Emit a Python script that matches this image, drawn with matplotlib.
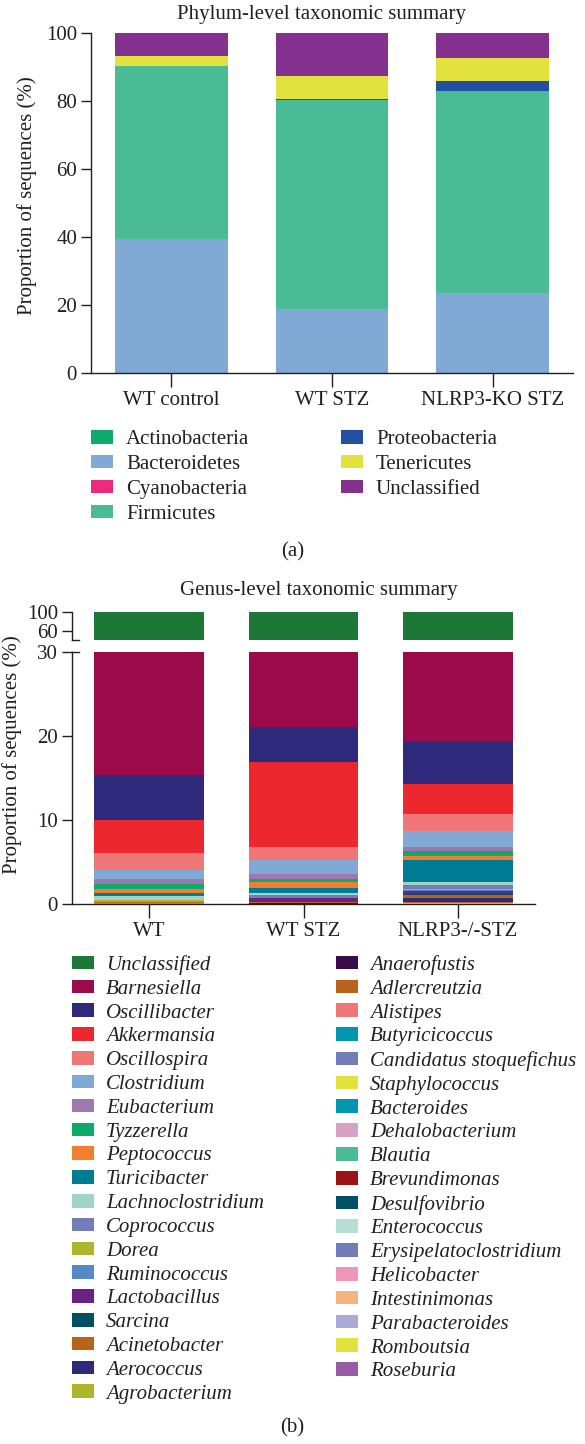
import numpy as np
import matplotlib
matplotlib.use("Agg")
import matplotlib.pyplot as plt
from matplotlib.patches import Patch

plt.rcParams['font.family'] = ['Liberation Serif', 'DejaVu Serif']
plt.rcParams['font.size'] = 15

INK = "#231F20"

# ---- panel (a): phylum level ----
phylum_groups = ["WT control", "WT STZ", "NLRP3-KO STZ"]
phylum_names = ["Actinobacteria", "Bacteroidetes", "Cyanobacteria", "Firmicutes",
                "Proteobacteria", "Tenericutes", "Unclassified"]
phylum_colors = ["#0DAA6C", "#80A9D5", "#EC2A7E", "#49BC96",
                 "#234FA0", "#E3E23C", "#84308E"]
actinobacteria = [0.10, 0.05, 0.10]
bacteroidetes = [39.40, 18.90, 23.50]
cyanobacteria = [0.05, 0.02, 0.02]
firmicutes = [50.60, 61.30, 59.40]
proteobacteria = [0.10, 0.30, 3.00]
tenericutes = [2.90, 6.90, 6.50]
phylum_unclassified = [6.85, 12.53, 7.48]
phylum_values = [actinobacteria, bacteroidetes, cyanobacteria, firmicutes,
                 proteobacteria, tenericutes, phylum_unclassified]

# ---- panel (b): genus level (legend order, top of stack first) ----
genus_groups = ["WT", "WT STZ", "NLRP3-/-STZ"]
genus_names = [
    "Unclassified", "Barnesiella", "Oscillibacter", "Akkermansia", "Oscillospira",
    "Clostridium", "Eubacterium", "Tyzzerella", "Peptococcus", "Turicibacter",
    "Lachnoclostridium", "Coprococcus", "Dorea", "Ruminococcus", "Lactobacillus",
    "Sarcina", "Acinetobacter", "Aerococcus", "Agrobacterium", "Anaerofustis",
    "Adlercreutzia", "Alistipes", "Butyricicoccus", "Candidatus stoquefichus",
    "Staphylococcus", "Bacteroides", "Dehalobacterium", "Blautia", "Brevundimonas",
    "Desulfovibrio", "Enterococcus", "Erysipelatoclostridium", "Helicobacter",
    "Intestinimonas", "Parabacteroides", "Romboutsia", "Roseburia"]
genus_colors = [
    "#1B7837", "#9B0A4A", "#2E2A7B", "#EC282E", "#EE7677",
    "#80A9D5", "#9C79AE", "#0DAA6C", "#F27F30", "#007B94",
    "#9ED5C4", "#727CB8", "#AFB52A", "#5589C6", "#6C2380",
    "#034F65", "#B8621B", "#2E2A7B", "#AFB52A", "#3B0A48",
    "#B8621B", "#EE7677", "#0096AE", "#727CB8",
    "#E3E23C", "#0096AE", "#D9A0C6", "#49BC96", "#9B1316",
    "#034F65", "#B4DFD3", "#727CB8", "#EE95BA",
    "#F3B47E", "#A9AAD6", "#E3E23C", "#955CA5"]
genus_wt = [60.64, 24.00, 5.36, 3.93, 2.02, 1.07, 0.58, 0.63, 0.46, 0.36,
            0.47, 0.05, 0.19, 0.02, 0.03, 0.01, 0.02, 0.10, 0.010, 0.003,
            0.004, 0.005, 0.003, 0.002, 0.004, 0.003, 0.003, 0.004, 0.002,
            0.003, 0.002, 0.003, 0.002, 0.003, 0.002, 0.003, 0.002]
genus_wt_stz = [59.90, 19.00, 4.17, 10.11, 1.55, 1.67, 0.59, 0.36, 0.72, 0.59,
                0.32, 0.16, 0.08, 0.12, 0.47, 0.01, 0.01, 0.10, 0.010, 0.005,
                0.003, 0.004, 0.005, 0.004, 0.003, 0.005, 0.004, 0.003, 0.003,
                0.004, 0.003, 0.002, 0.003, 0.002, 0.003, 0.002, 0.003]
genus_ko_stz = [60.67, 20.00, 5.00, 3.58, 2.04, 1.88, 0.50, 0.58, 0.47, 2.62,
                0.36, 0.47, 0.12, 0.20, 0.28, 0.15, 0.33, 0.55, 0.010, 0.010,
                0.010, 0.020, 0.010, 0.010, 0.020, 0.010, 0.010, 0.010, 0.005,
                0.010, 0.010, 0.010, 0.010, 0.005, 0.010, 0.010, 0.010]

W, H = 585, 1444
fig = plt.figure(figsize=(W / 100, H / 100), dpi=100)


def rect(l, t, r, b):
    return [l / W, 1 - b / H, (r - l) / W, (b - t) / H]


def style(ax, bottom=True):
    for s in ["top", "right"]:
        ax.spines[s].set_visible(False)
    ax.spines["bottom"].set_visible(bottom)
    for s in ["left", "bottom"]:
        ax.spines[s].set_linewidth(1.0)
        ax.spines[s].set_color(INK)
    ax.tick_params(direction="out", length=7, width=1.0, color=INK,
                   labelcolor=INK, labelsize=15, pad=3)


fs = 15
fpx = fs * 100 / 72

# ---- panel (a) ----
ax = fig.add_axes(rect(91, 33, 573, 373))
x = np.arange(len(phylum_groups))
bottom = np.zeros(len(x))
for name, col, vals in zip(phylum_names, phylum_colors, phylum_values):
    ax.bar(x, vals, 0.70, bottom=bottom, color=col, label=name, linewidth=0)
    bottom += np.array(vals)
ax.set_xlim(-0.5, 2.5)
ax.set_ylim(0, 100)
ax.set_yticks([0, 20, 40, 60, 80, 100])
ax.set_xticks(x)
ax.set_xticklabels(phylum_groups)
style(ax)
ax.tick_params(axis="x", length=10, pad=3)
fig.text(0.55, 1 - 14 / H, "Phylum-level taxonomic summary", ha="center", va="center",
         fontsize=fs, color=INK)
fig.text(27 / W, 1 - 196 / H, "Proportion of sequences (%)", rotation=90,
         ha="center", va="center", fontsize=fs, color=INK)

ph = [Patch(facecolor=c, edgecolor="none") for c in phylum_colors]
leg_kw = dict(frameon=False, loc="upper left", borderpad=0, borderaxespad=0,
              handlelength=22 / fpx, handleheight=13 / fpx, handletextpad=13 / fpx,
              labelspacing=0.28, fontsize=fs, labelcolor=INK)
fig.legend(ph[:4], phylum_names[:4], bbox_to_anchor=(91 / W, 1 - 430 / H), **leg_kw)
fig.legend(ph[4:], phylum_names[4:], bbox_to_anchor=(341 / W, 1 - 430 / H), **leg_kw)
fig.text(0.5, 1 - 552 / H, "(a)", ha="center", va="center", fontsize=fs, color=INK)

# ---- panel (b) ----
ax_hi = fig.add_axes(rect(72, 612, 535, 640))
ax_lo = fig.add_axes(rect(72, 652, 535, 904))
xg = np.arange(len(genus_groups))
gvals = np.array([genus_wt, genus_wt_stz, genus_ko_stz]).T
for a in (ax_hi, ax_lo):
    bottom = np.zeros(len(xg))
    for name, col, vals in reversed(list(zip(genus_names, genus_colors, gvals))):
        a.bar(xg, vals, 0.71, bottom=bottom, color=col, linewidth=0)
        bottom += vals
    a.set_xlim(-0.5, 2.5)
ax_hi.set_ylim(40, 100)
ax_hi.set_yticks([60, 100])
ax_hi.set_xticks([])
style(ax_hi, bottom=False)
ax_lo.set_ylim(0, 30)
ax_lo.set_yticks([0, 10, 20, 30])
ax_lo.set_xticks(xg)
ax_lo.set_xticklabels(genus_groups)
style(ax_lo)
ax_lo.tick_params(axis="x", length=10, pad=3)
# axis break caps
cap = 7 / (535 - 72)
ax_hi.plot([0, cap], [0, 0], transform=ax_hi.transAxes, color=INK, lw=1.0, clip_on=False)
ax_lo.plot([0, cap], [1, 1], transform=ax_lo.transAxes, color=INK, lw=1.0, clip_on=False)

fig.text(0.545, 1 - 591 / H, "Genus-level taxonomic summary", ha="center", va="center",
         fontsize=fs, color=INK)
fig.text(12 / W, 1 - 755 / H, "Proportion of sequences (%)", rotation=90,
         ha="center", va="center", fontsize=fs, color=INK)

gh = [Patch(facecolor=c, edgecolor="none") for c in genus_colors]
gleg_kw = dict(leg_kw)
gleg_kw.update(labelspacing=0.226, handletextpad=12 / fpx, prop={"style": "italic", "size": fs})
gleg_kw.pop("fontsize")
fig.legend(gh[:19], genus_names[:19], bbox_to_anchor=(72 / W, 1 - 955 / H), **gleg_kw)
fig.legend(gh[19:], genus_names[19:], bbox_to_anchor=(336 / W, 1 - 955 / H), **gleg_kw)
fig.text(0.5, 1 - 1428 / H, "(b)", ha="center", va="center", fontsize=fs, color=INK)

fig.savefig("out.png", dpi=100)
